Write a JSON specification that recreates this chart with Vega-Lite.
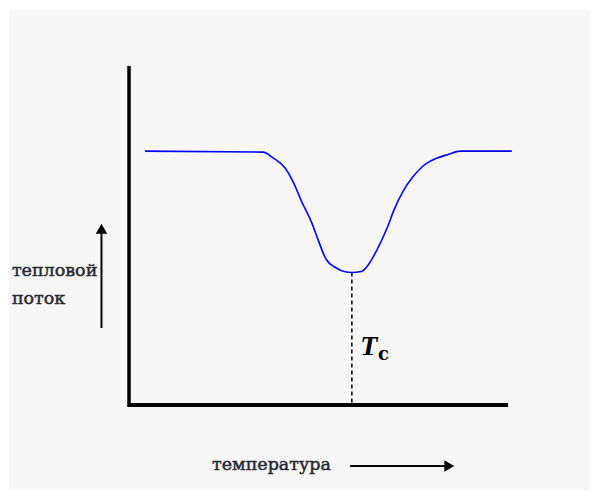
{
  "$schema": "https://vega.github.io/schema/vega-lite/v6.json",
  "width": 379,
  "height": 339,
  "autosize": {"type": "none"},
  "padding": {"left": 129, "top": 66, "right": 90, "bottom": 93},
  "background": "white",
  "config": {
    "view": {"stroke": null}
  },
  "datasets": {
    "bg": [{"x1": -31.7, "x2": 121.6, "y1": 116.5, "y2": -25.1}],
    "yaxis": [{"x": 0, "y1": -0.6, "y2": 100}],
    "xaxis": [{"x1": 0, "x2": 100, "y": 0}],
    "curve": [
      {"t": 4.2, "q": 74.9}, {"t": 35.4, "q": 74.6}, {"t": 38.0, "q": 72.9}, {"t": 41.2, "q": 69.9},
      {"t": 43.3, "q": 65.8}, {"t": 45.6, "q": 59.9}, {"t": 48.3, "q": 53.5}, {"t": 49.9, "q": 48.7},
      {"t": 52.0, "q": 43.0}, {"t": 54.6, "q": 40.5}, {"t": 57.0, "q": 39.3}, {"t": 58.8, "q": 39.1},
      {"t": 61.3, "q": 39.4}, {"t": 63.1, "q": 41.3}, {"t": 65.4, "q": 45.7}, {"t": 68.1, "q": 52.2},
      {"t": 69.9, "q": 57.5}, {"t": 72.3, "q": 63.0}, {"t": 74.9, "q": 67.3}, {"t": 77.6, "q": 70.5},
      {"t": 81.0, "q": 72.7}, {"t": 84.2, "q": 73.9}, {"t": 87.3, "q": 74.9}, {"t": 101.0, "q": 74.9}
    ],
    "tc": [{"t": 58.8, "q1": 39.1, "q2": 0}],
    "upArrow": [{"x": -7.26, "y1": 22.7, "y2": 52}],
    "upHead": [{"x": -7.26, "y": 52}],
    "rightArrow": [{"x1": 58.3, "x2": 84.5, "y": -18.0}],
    "rightHead": [{"x": 84.5, "y": -18.0}],
    "labels": [
      {"x": -30.9, "y": 38.1, "label": "тепловой"},
      {"x": -30.9, "y": 29.8, "label": "поток"},
      {"x": 21.9, "y": -19.2, "label": "температура"}
    ],
    "tcT": [{"x": 61.0, "y": 14.7, "label": "T"}],
    "tcC": [{"x": 65.7, "y": 13.3, "label": "c"}]
  },
  "layer": [
    {
      "data": {"name": "bg"},
      "mark": {"type": "rect", "color": "#f7f7f7", "clip": false},
      "encoding": {
        "x": {"field": "x1", "type": "quantitative", "scale": {"domain": [0, 100], "nice": false, "zero": false}, "axis": null},
        "x2": {"field": "x2"},
        "y": {"field": "y1", "type": "quantitative", "scale": {"domain": [0, 100], "nice": false, "zero": false}, "axis": null},
        "y2": {"field": "y2"}
      }
    },
    {
      "data": {"name": "yaxis"},
      "mark": {"type": "rule", "color": "black", "strokeWidth": 3.5, "clip": false},
      "encoding": {
        "x": {"field": "x", "type": "quantitative"},
        "y": {"field": "y1", "type": "quantitative"},
        "y2": {"field": "y2"}
      }
    },
    {
      "data": {"name": "xaxis"},
      "mark": {"type": "rule", "color": "black", "strokeWidth": 4, "clip": false},
      "encoding": {
        "x": {"field": "x1", "type": "quantitative"},
        "x2": {"field": "x2"},
        "y": {"field": "y", "type": "quantitative"}
      }
    },
    {
      "data": {"name": "curve"},
      "mark": {"type": "line", "color": "#0000ff", "strokeWidth": 1.6, "interpolate": "monotone", "clip": false},
      "encoding": {
        "x": {"field": "t", "type": "quantitative"},
        "y": {"field": "q", "type": "quantitative"}
      }
    },
    {
      "data": {"name": "tc"},
      "mark": {"type": "rule", "color": "black", "strokeWidth": 1.5, "strokeDash": [4, 3]},
      "encoding": {
        "x": {"field": "t", "type": "quantitative"},
        "y": {"field": "q1", "type": "quantitative"},
        "y2": {"field": "q2"}
      }
    },
    {
      "data": {"name": "upArrow"},
      "mark": {"type": "rule", "color": "black", "strokeWidth": 2, "clip": false},
      "encoding": {
        "x": {"field": "x", "type": "quantitative"},
        "y": {"field": "y1", "type": "quantitative"},
        "y2": {"field": "y2"}
      }
    },
    {
      "data": {"name": "upHead"},
      "mark": {"type": "point", "shape": "triangle-up", "filled": true, "color": "black", "size": 130, "opacity": 1, "clip": false},
      "encoding": {
        "x": {"field": "x", "type": "quantitative"},
        "y": {"field": "y", "type": "quantitative"}
      }
    },
    {
      "data": {"name": "rightArrow"},
      "mark": {"type": "rule", "color": "black", "strokeWidth": 2, "clip": false},
      "encoding": {
        "x": {"field": "x1", "type": "quantitative"},
        "x2": {"field": "x2"},
        "y": {"field": "y", "type": "quantitative"}
      }
    },
    {
      "data": {"name": "rightHead"},
      "mark": {"type": "point", "shape": "triangle-right", "filled": true, "color": "black", "size": 130, "opacity": 1, "clip": false},
      "encoding": {
        "x": {"field": "x", "type": "quantitative"},
        "y": {"field": "y", "type": "quantitative"}
      }
    },
    {
      "data": {"name": "labels"},
      "mark": {"type": "text", "align": "left", "baseline": "alphabetic", "font": "DejaVu Serif", "fontSize": 17.5, "fontWeight": "normal", "color": "#2a2a35", "stroke": "#2a2a35", "strokeWidth": 0.5, "clip": false},
      "encoding": {
        "x": {"field": "x", "type": "quantitative"},
        "y": {"field": "y", "type": "quantitative"},
        "text": {"field": "label"}
      }
    },
    {
      "data": {"name": "tcT"},
      "mark": {"type": "text", "align": "left", "baseline": "alphabetic", "font": "Liberation Serif", "fontSize": 28, "fontStyle": "italic", "fontWeight": "bold", "color": "black"},
      "encoding": {
        "x": {"field": "x", "type": "quantitative"},
        "y": {"field": "y", "type": "quantitative"},
        "text": {"field": "label"}
      }
    },
    {
      "data": {"name": "tcC"},
      "mark": {"type": "text", "align": "left", "baseline": "alphabetic", "font": "DejaVu Serif", "fontSize": 18, "fontWeight": "bold", "color": "black"},
      "encoding": {
        "x": {"field": "x", "type": "quantitative"},
        "y": {"field": "y", "type": "quantitative"},
        "text": {"field": "label"}
      }
    }
  ]
}
